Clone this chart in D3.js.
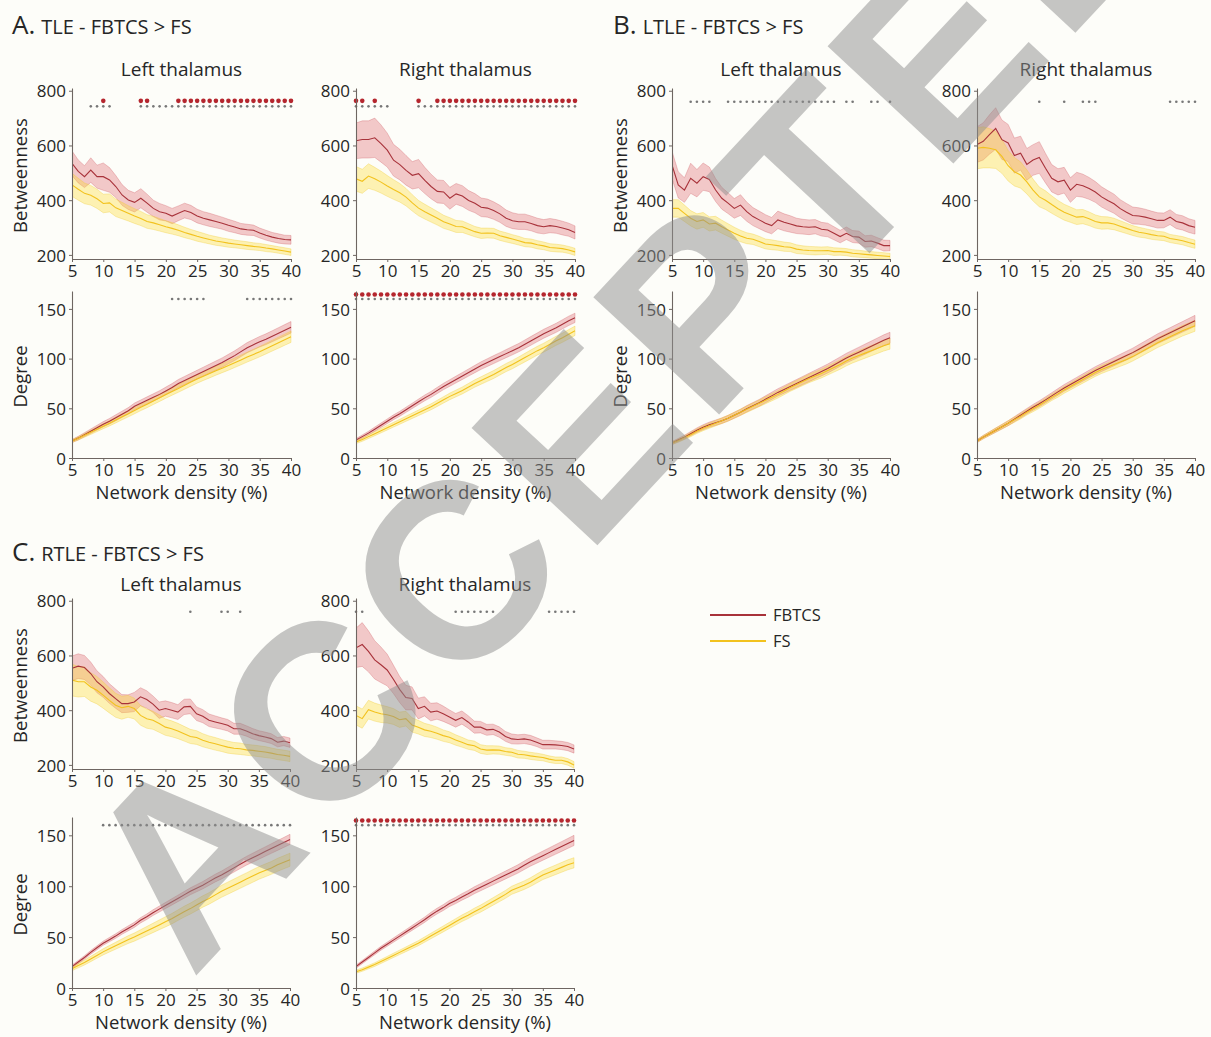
<!DOCTYPE html>
<html>
<head>
<meta charset="utf-8">
<script src="https://cdn.jsdelivr.net/npm/d3@7"></script>
<style>
  body { margin: 0; background: #fdfdf9; }
  svg text { font-family: "Open Sans", sans-serif; fill: #262626; }
</style>
</head>
<body>
<svg id="fig" width="1211" height="1037"></svg>
<script>
// ---------------- data ----------------
const density = [5,6,7,8,9,10,11,12,13,14,15,16,17,18,19,20,21,22,23,24,25,26,27,28,29,30,31,32,33,34,35,36,37,38,39,40];
const densityTicks = [5,10,15,20,25,30,35,40];
const betweennessTicks = [200,400,600,800];
const degreeTicks = [0,50,100,150];
const groups = ["FBTCS", "FS"];

// A. TLE — betweenness
const tleLeftBtwFbtcs = [535,505,486,510,486,486,474,450,419,401,392,407,389,370,358,352,342,352,362,355,342,334,328,322,316,308,302,295,292,290,280,272,265,260,256,255];
const tleLeftBtwFbtcsSe = [45,42,40,45,42,50,45,40,38,35,35,35,33,30,30,28,28,27,27,26,25,24,24,23,22,22,21,20,20,19,18,18,17,17,16,16];
const tleLeftBtwFs = [456,440,425,418,405,388,390,372,362,352,342,333,322,317,310,303,297,290,282,275,268,262,256,251,247,243,240,237,234,231,229,225,222,218,214,210];
const tleLeftBtwFsSe = [42,40,38,36,35,34,33,32,30,28,27,26,25,24,23,22,21,20,19,18,18,17,16,16,15,15,14,14,14,13,13,13,12,12,12,12];
const tleRightBtwFbtcs = [617,622,622,628,607,583,546,530,509,491,497,472,450,432,430,407,423,415,399,389,374,371,362,350,334,325,321,321,315,307,303,307,304,298,292,282];
const tleRightBtwFbtcsSe = [65,68,68,72,68,62,58,56,54,50,52,48,45,42,42,40,38,38,36,35,34,33,32,31,30,29,28,28,27,27,26,26,25,25,24,24];
const tleRightBtwFs = [478,469,488,478,466,452,439,427,411,390,371,358,346,334,321,313,304,303,294,285,279,280,279,270,264,258,252,245,243,237,233,227,225,223,218,211];
const tleRightBtwFsSe = [45,44,45,42,40,38,36,34,32,30,28,27,26,25,24,23,22,21,20,19,19,18,18,17,17,16,16,15,15,15,14,14,14,13,13,13];

// A. TLE — degree
const tleLeftDegFbtcs = [17,20,23.5,27,30.5,34,37,40.5,44,47.5,52,55,58,61,64,67.5,71,75,78,81,84,87,90,93,96,99.5,103,107,111,114,117,119.5,122.5,125.5,128.5,131.5];
const tleLeftDegFbtcsSe = [1.5,1.8,2,2.2,2.4,2.6,2.8,3,3.1,3.2,3.3,3.4,3.5,3.6,3.7,3.8,3.9,4,4.1,4.2,4.3,4.4,4.5,4.6,4.7,4.8,4.9,5,5.1,5.2,5.3,5.4,5.5,5.6,5.7,5.8];
const tleLeftDegFs = [17,19.8,22.8,25.8,28.9,32,35,38.2,41.4,44.5,47.7,51,54,57.3,60.5,63.8,67,70,73.2,76.4,79.5,82.3,85,87.8,90.4,93,95.8,98.6,101.5,104.2,107,110,113,116,119,122];
const tleLeftDegFsSe = [1.5,1.7,1.9,2.1,2.3,2.5,2.7,2.9,3,3.1,3.2,3.3,3.4,3.5,3.6,3.7,3.8,3.9,4,4.1,4.2,4.3,4.4,4.5,4.6,4.7,4.8,4.9,5,5.1,5.2,5.3,5.4,5.5,5.6,5.7];
const tleRightDegFbtcs = [18,21.5,25,29,33,37,41,44.5,48.5,52.5,56.5,60.5,64,68,72,75.5,79,82.5,86,89.5,93,96,99,102,105,108,111,114.5,118,121.5,125,128,131,134.5,138,141];
const tleRightDegFbtcsSe = [1.5,1.7,1.9,2.1,2.2,2.3,2.4,2.5,2.6,2.7,2.8,2.9,3,3.1,3.2,3.3,3.4,3.5,3.6,3.7,3.8,3.9,4,4,4.1,4.2,4.2,4.3,4.4,4.4,4.5,4.5,4.6,4.6,4.7,4.7];
const tleRightDegFs = [16,18.5,21.5,24.5,27.5,30.5,33.5,36.5,39.5,42.5,45.5,48.5,51.5,55,58.5,62,65,68,71.5,75,78,81,84,87.5,91,94,97.5,101,104.5,108,111,114.5,118,121,124.5,128];
const tleRightDegFsSe = [1.5,1.7,1.9,2.1,2.2,2.3,2.4,2.5,2.6,2.7,2.8,2.9,3,3.1,3.2,3.3,3.4,3.5,3.6,3.7,3.8,3.9,4,4,4.1,4.2,4.2,4.3,4.4,4.4,4.5,4.5,4.6,4.6,4.7,4.7];

// B. LTLE — betweenness
const ltleLeftBtwFbtcs = [529,456,437,480,462,486,476,437,407,389,370,382,358,340,328,316,307,328,319,313,306,303,301,303,294,291,279,267,279,267,265,249,251,243,234,234];
const ltleLeftBtwFbtcsSe = [50,48,45,55,50,50,45,42,40,38,36,38,35,33,32,31,30,32,31,30,28,27,27,26,25,25,24,23,23,22,22,21,21,20,20,19];
const ltleLeftBtwFs = [370,370,352,334,322,328,313,316,303,291,279,269,261,257,249,240,237,234,230,228,221,218,216,215,215,216,212,212,210,206,204,202,200,198,196,194];
const ltleLeftBtwFsSe = [32,32,30,28,28,27,26,25,24,23,22,21,20,19,19,18,18,17,17,16,16,15,15,15,14,14,14,13,13,13,13,12,12,12,12,12];
const ltleRightBtwFbtcs = [603,615,640,662,621,609,563,572,531,547,556,517,480,467,473,437,458,453,443,430,412,399,387,369,356,344,342,338,332,326,326,338,322,317,307,301];
const ltleRightBtwFbtcsSe = [65,68,72,76,72,68,64,62,58,56,58,54,50,48,47,45,44,42,40,38,37,36,35,33,32,31,30,29,28,28,27,27,26,26,25,25];
const ltleRightBtwFs = [590,593,590,584,560,526,504,492,467,437,412,400,384,369,356,347,338,340,332,322,317,317,313,305,297,289,283,279,274,270,268,260,256,252,245,239];
const ltleRightBtwFsSe = [75,75,72,68,62,56,52,48,44,40,36,34,32,30,29,28,27,26,25,24,23,22,21,20,19,18,18,17,17,16,16,15,15,15,15,15];

// B. LTLE — degree
const ltleLeftDegFbtcs = [15,18,21,24.5,28,31,33.5,35.5,37.5,40,43,46,49.5,52.5,55.5,59,62.5,66,69,72,75,78,81,84,87,90,93.5,97,100.5,103.5,106.5,109.5,112.5,115.5,118.5,121];
const ltleLeftDegFbtcsSe = [1.5,1.7,1.9,2.1,2.3,2.5,2.6,2.7,2.8,2.9,3,3.1,3.2,3.3,3.4,3.5,3.6,3.7,3.8,3.9,4,4.1,4.2,4.3,4.4,4.5,4.6,4.7,4.8,4.9,5,5.1,5.2,5.3,5.4,5.5];
const ltleLeftDegFs = [15,17.5,20.5,23.5,27,30,32.5,35,37.5,40,43,46,49,52,55,58,61,64,67.5,71,74,77,80,82.5,85,88,91,94,97.5,100.5,103,105.5,108,110.5,113,115];
const ltleLeftDegFsSe = [1.5,1.7,1.9,2.1,2.3,2.5,2.6,2.7,2.8,2.9,3,3.1,3.2,3.3,3.4,3.5,3.6,3.7,3.8,3.9,4,4.1,4.2,4.3,4.4,4.5,4.6,4.7,4.8,4.9,5,5.1,5.2,5.3,5.4,5.5];
const ltleRightDegFbtcs = [17,21,24.5,28,31.5,35,39,43,47,51,54.5,58.5,62.5,66.5,70.5,74,77.5,81,84.5,88,91,94,97,100,103,106,109.5,113,116.5,120,123,126,129,132,135,138];
const ltleRightDegFbtcsSe = [1.5,1.7,1.9,2.1,2.3,2.5,2.6,2.7,2.8,2.9,3,3.1,3.2,3.3,3.4,3.5,3.6,3.7,3.8,3.9,4,4.1,4.2,4.3,4.4,4.5,4.6,4.7,4.8,4.9,5,5.1,5.2,5.3,5.4,5.5];
const ltleRightDegFs = [17,21,24.5,28,31.5,35,38.5,42,46,49.5,53,57,61,64.5,68.5,72,75.5,79,82.5,86,89,91.5,94,96.5,99,102,105.5,109,112.5,116,119,122,125,128,130.5,133];
const ltleRightDegFsSe = [1.5,1.7,1.9,2.1,2.3,2.5,2.6,2.7,2.8,2.9,3,3.1,3.2,3.3,3.4,3.5,3.6,3.7,3.8,3.9,4,4.1,4.2,4.3,4.4,4.5,4.6,4.7,4.8,4.9,5,5.1,5.2,5.3,5.4,5.5];

// C. RTLE — betweenness
const rtleLeftBtwFbtcs = [553,561,556,534,504,485,461,442,424,424,430,449,439,422,400,406,400,393,412,414,387,378,363,357,351,345,332,332,324,314,307,302,296,283,287,281];
const rtleLeftBtwFbtcsSe = [45,45,44,42,40,38,36,35,33,32,35,33,32,30,30,28,28,27,28,27,25,24,23,22,21,21,20,20,19,19,18,18,18,17,17,17];
const rtleLeftBtwFs = [510,504,504,485,473,455,436,418,409,414,406,381,369,363,351,338,332,324,314,304,300,290,283,277,271,265,261,259,255,253,250,247,243,238,235,231];
const rtleLeftBtwFsSe = [58,56,54,52,50,48,46,44,42,40,38,36,35,33,32,30,29,28,27,26,25,24,23,23,22,22,21,21,20,20,20,20,19,19,19,19];
const rtleRightBtwFbtcs = [628,640,615,584,566,547,513,476,446,443,406,414,393,397,387,375,363,373,357,338,338,328,330,320,304,295,293,295,291,283,274,274,273,271,267,258];
const rtleRightBtwFbtcsSe = [72,80,75,70,65,58,52,48,45,42,38,35,32,30,28,26,25,24,23,22,21,20,19,19,18,18,17,17,17,16,16,16,15,15,15,15];
const rtleRightBtwFs = [381,369,402,393,387,383,377,365,369,346,338,328,323,316,307,301,291,283,274,270,258,254,255,254,249,246,239,237,233,230,227,221,217,217,211,200];
const rtleRightBtwFsSe = [35,35,34,33,32,30,29,28,27,26,25,24,23,22,21,20,19,18,17,17,16,16,15,15,14,14,14,13,13,13,12,12,12,12,12,12];

// C. RTLE — degree
const rtleLeftDegFbtcs = [21,25.5,30,35,39.5,44,47.5,51,55,58.5,62,66.5,70,74,77.5,81,84.5,88,91.5,95,98,101,104.5,108,111,114.5,118,121.5,125,128,131,134,137,140,143,146];
const rtleLeftDegFbtcsSe = [1.5,1.6,1.7,1.8,1.9,2,2.1,2.2,2.3,2.4,2.5,2.6,2.7,2.8,2.9,3,3.1,3.2,3.3,3.4,3.5,3.6,3.7,3.8,3.9,4,4.1,4.2,4.3,4.4,4.5,4.6,4.7,4.8,4.9,5];
const rtleLeftDegFs = [19,22,25,28.5,32,35.5,38.5,41.5,44.5,47.5,50,53,56,59,62,65,68,71.5,75,78,81.5,85,88,91.5,95,98,101,104,107,110,113,115.5,118,121,123.5,126];
const rtleLeftDegFsSe = [2,2.2,2.4,2.6,2.8,3,3.2,3.4,3.6,3.8,4,4.2,4.4,4.6,4.8,5,5.1,5.2,5.3,5.4,5.5,5.6,5.7,5.8,5.9,6,6,6.1,6.1,6.2,6.2,6.3,6.3,6.4,6.4,6.5];
const rtleRightDegFbtcs = [21,25.5,30,34.5,39,43,47,51,55,59,63,67,71.5,75.5,79,83,86,89.5,92.5,96,99,102,105,108,111,114,117,120.5,124,127,130,133,136,139,142,145];
const rtleRightDegFbtcsSe = [1.5,1.6,1.7,1.8,1.9,2,2.1,2.2,2.3,2.4,2.5,2.6,2.7,2.8,2.9,3,3.1,3.2,3.3,3.4,3.5,3.6,3.7,3.8,3.9,4,4.1,4.2,4.3,4.4,4.5,4.6,4.7,4.8,4.9,5];
const rtleRightDegFs = [16,18,20.5,23,26,29,32,35,38,41,44,47.5,51,54.5,58,61.5,65,68.5,71.5,75,78,81.5,85,88.5,92,96,98.5,101,104,107.5,111,113.5,116,118.5,121,123];
const rtleRightDegFsSe = [1.5,1.6,1.7,1.8,1.9,2,2.1,2.2,2.3,2.4,2.5,2.6,2.7,2.8,2.9,3,3.1,3.2,3.3,3.4,3.5,3.6,3.7,3.8,3.9,4,4.1,4.2,4.3,4.4,4.5,4.6,4.7,4.8,4.9,5];

// Significant densities (red: corrected, grey: uncorrected)
const tleLeftBtwCorr = [10,16,17,22,23,24,25,26,27,28,29,30,31,32,33,34,35,36,37,38,39,40];
const tleLeftBtwUnc = [8,9,10,11,16,17,18,19,20,21,22,23,24,25,26,27,28,29,30,31,32,33,34,35,36,37,38,39,40];
const tleRightBtwCorr = [5,6,8,15,18,19,20,21,22,23,24,25,26,27,28,29,30,31,32,33,34,35,36,37,38,39,40];
const tleRightBtwUnc = [5,6,7,8,9,10,15,16,17,18,19,20,21,22,23,24,25,26,27,28,29,30,31,32,33,34,35,36,37,38,39,40];
const tleLeftDegUnc = [21,22,23,24,25,26,33,34,35,36,37,38,39,40];
const tleRightDegCorr = [5,6,7,8,9,10,11,12,13,14,15,16,17,18,19,20,21,22,23,24,25,26,27,28,29,30,31,32,33,34,35,36,37,38,39,40];
const tleRightDegUnc = [5,6,7,8,9,10,11,12,13,14,15,16,17,18,19,20,21,22,23,24,25,26,27,28,29,30,31,32,33,34,35,36,37,38,39,40];
const ltleLeftBtwUnc = [8,9,10,11,14,15,16,17,18,19,20,21,22,23,24,25,26,27,28,29,30,31,33,34,37,38,40];
const ltleRightBtwUnc = [15,19,22,23,24,36,37,38,39,40];
const rtleLeftBtwUnc = [24,29,30,32];
const rtleRightBtwUnc = [5,6,21,22,23,24,25,26,27,36,37,38,39,40];
const rtleLeftDegUnc = [10,11,12,13,14,15,16,17,18,19,20,21,22,23,24,25,26,27,28,29,30,31,32,33,34,35,36,37,38,39,40];
const rtleRightDegCorr = [5,6,7,8,9,10,11,12,13,14,15,16,17,18,19,20,21,22,23,24,25,26,27,28,29,30,31,32,33,34,35,36,37,38,39,40];
const rtleRightDegUnc = [5,6,7,8,9,10,11,12,13,14,15,16,17,18,19,20,21,22,23,24,25,26,27,28,29,30,31,32,33,34,35,36,37,38,39,40];

// ---------------- drawing ----------------
const svg = d3.select("#fig");
const style = {
  FBTCS: { line: "#a8323a", fill: "rgba(214,66,76,0.28)", edge: "rgba(200,70,80,0.35)" },
  FS:    { line: "#f2c21e", fill: "rgba(252,218,40,0.34)", edge: "rgba(240,200,40,0.4)" }
};
const markerStyle = { corr: { r: 2.3, fill: "#b5262e" }, unc: { r: 1.3, fill: "#777" } };

let clipId = 0;
function drawPlot(p) {
  const g = svg.append("g");
  const x = d3.scaleLinear().domain([5, 40]).range([p.left, p.left + p.width]);
  const y = d3.scaleLinear().domain(p.domain).range([p.bottom, p.top]);
  const id = "clip" + (clipId++);
  g.append("clipPath").attr("id", id).append("rect")
    .attr("x", p.left).attr("y", p.top).attr("width", p.width + 1).attr("height", p.bottom - p.top);
  const body = g.append("g").attr("clip-path", `url(#${id})`);

  p.series.forEach(s => {
    const st = style[s.group];
    const area = d3.area()
      .x((d, i) => x(density[i]))
      .y0((d, i) => y(d - s.se[i]))
      .y1((d, i) => y(d + s.se[i]));
    body.append("path").datum(s.mean).attr("d", area)
      .attr("fill", st.fill).attr("stroke", st.edge).attr("stroke-width", 0.8);
  });
  p.series.forEach(s => {
    const line = d3.line().x((d, i) => x(density[i])).y(d => y(d));
    body.append("path").datum(s.mean).attr("d", line)
      .attr("fill", "none").attr("stroke", style[s.group].line).attr("stroke-width", 1.1);
  });

  (p.markers || []).forEach(m => {
    g.append("g").selectAll("circle").data(m.at).join("circle")
      .attr("cx", d => x(d)).attr("cy", y(m.level))
      .attr("r", markerStyle[m.kind].r).attr("fill", markerStyle[m.kind].fill);
  });

  const yAxis = d3.axisLeft(y).tickValues(p.ticks).tickSize(3).tickSizeOuter(0).tickPadding(3);
  const xAxis = d3.axisBottom(x).tickValues(densityTicks).tickSize(3).tickSizeOuter(0).tickPadding(2);
  const ya = g.append("g").attr("transform", `translate(${p.left},0)`).call(yAxis);
  const xa = g.append("g").attr("transform", `translate(0,${p.bottom})`).call(xAxis);
  [ya, xa].forEach(a => {
    a.select(".domain").attr("stroke", "#6e6662").attr("stroke-width", 1.1);
    a.selectAll(".tick line").attr("stroke", "#6e6662");
    a.selectAll(".tick text").style("font-size", "17px").attr("fill", "#262626");
  });
  ya.selectAll(".tick text").attr("dy", "0.36em");
  xa.selectAll(".tick text").attr("dy", "0.78em");

  if (p.title) {
    g.append("text").attr("x", p.left + p.width / 2).attr("y", p.titleY)
      .attr("text-anchor", "middle").style("font-size", "19px").text(p.title);
  }
  if (p.ylabel) {
    g.append("text")
      .attr("transform", `translate(${p.left - 45},${(p.top + p.bottom) / 2 + 2}) rotate(-90)`)
      .attr("text-anchor", "middle").style("font-size", "18.5px").text(p.ylabel);
  }
  if (p.xlabel) {
    g.append("text").attr("x", p.left + p.width / 2).attr("y", p.bottom + 41)
      .attr("text-anchor", "middle").style("font-size", "18.5px").text(p.xlabel);
  }
}

const btwDomain = [185, 810];
const degDomain = [0, 168];
const XLAB = "Network density (%)";

function panel(cfg) {
  const [lx, rx] = cfg.cols;
  const w = cfg.width;
  const d = cfg.data;
  // betweenness row
  drawPlot({ left: lx, width: w, top: cfg.btwTop, bottom: cfg.btwBottom, domain: btwDomain,
    ticks: betweennessTicks, title: "Left thalamus", titleY: cfg.titleY,
    ylabel: "Betweenness",
    series: [{ group: "FBTCS", mean: d.lbF, se: d.lbFse }, { group: "FS", mean: d.lbS, se: d.lbSse }],
    markers: d.lbMarks });
  drawPlot({ left: rx, width: w, top: cfg.btwTop, bottom: cfg.btwBottom, domain: btwDomain,
    ticks: betweennessTicks, title: "Right thalamus", titleY: cfg.titleY,
    series: [{ group: "FBTCS", mean: d.rbF, se: d.rbFse }, { group: "FS", mean: d.rbS, se: d.rbSse }],
    markers: d.rbMarks });
  // degree row
  drawPlot({ left: lx, width: w, top: cfg.degTop, bottom: cfg.degBottom, domain: degDomain,
    ticks: degreeTicks, ylabel: "Degree", xlabel: XLAB,
    series: [{ group: "FBTCS", mean: d.ldF, se: d.ldFse }, { group: "FS", mean: d.ldS, se: d.ldSse }],
    markers: d.ldMarks });
  drawPlot({ left: rx, width: w, top: cfg.degTop, bottom: cfg.degBottom, domain: degDomain,
    ticks: degreeTicks, xlabel: XLAB,
    series: [{ group: "FBTCS", mean: d.rdF, se: d.rdFse }, { group: "FS", mean: d.rdS, se: d.rdSse }],
    markers: d.rdMarks });
  // panel heading
  const h = svg.append("text").attr("x", cfg.headX).attr("y", cfg.headY);
  h.append("tspan").style("font-size", "26px").text(cfg.letter);
  h.append("tspan").attr("dx", 6).style("font-size", "20px").text(cfg.heading);
}

panel({
  letter: "A.", heading: "TLE - FBTCS > FS", headX: 12, headY: 34,
  cols: [72, 356], width: 219, titleY: 76,
  btwTop: 88, btwBottom: 259, degTop: 291, degBottom: 458,
  data: {
    lbF: tleLeftBtwFbtcs, lbFse: tleLeftBtwFbtcsSe, lbS: tleLeftBtwFs, lbSse: tleLeftBtwFsSe,
    rbF: tleRightBtwFbtcs, rbFse: tleRightBtwFbtcsSe, rbS: tleRightBtwFs, rbSse: tleRightBtwFsSe,
    ldF: tleLeftDegFbtcs, ldFse: tleLeftDegFbtcsSe, ldS: tleLeftDegFs, ldSse: tleLeftDegFsSe,
    rdF: tleRightDegFbtcs, rdFse: tleRightDegFbtcsSe, rdS: tleRightDegFs, rdSse: tleRightDegFsSe,
    lbMarks: [{ kind: "corr", level: 763, at: tleLeftBtwCorr }, { kind: "unc", level: 743, at: tleLeftBtwUnc }],
    rbMarks: [{ kind: "corr", level: 763, at: tleRightBtwCorr }, { kind: "unc", level: 743, at: tleRightBtwUnc }],
    ldMarks: [{ kind: "unc", level: 160, at: tleLeftDegUnc }],
    rdMarks: [{ kind: "corr", level: 164.5, at: tleRightDegCorr }, { kind: "unc", level: 160, at: tleRightDegUnc }]
  }
});

panel({
  letter: "B.", heading: "LTLE - FBTCS > FS", headX: 613, headY: 34,
  cols: [672, 977], width: 218, titleY: 76,
  btwTop: 88, btwBottom: 259, degTop: 291, degBottom: 458,
  data: {
    lbF: ltleLeftBtwFbtcs, lbFse: ltleLeftBtwFbtcsSe, lbS: ltleLeftBtwFs, lbSse: ltleLeftBtwFsSe,
    rbF: ltleRightBtwFbtcs, rbFse: ltleRightBtwFbtcsSe, rbS: ltleRightBtwFs, rbSse: ltleRightBtwFsSe,
    ldF: ltleLeftDegFbtcs, ldFse: ltleLeftDegFbtcsSe, ldS: ltleLeftDegFs, ldSse: ltleLeftDegFsSe,
    rdF: ltleRightDegFbtcs, rdFse: ltleRightDegFbtcsSe, rdS: ltleRightDegFs, rdSse: ltleRightDegFsSe,
    lbMarks: [{ kind: "unc", level: 760, at: ltleLeftBtwUnc }],
    rbMarks: [{ kind: "unc", level: 760, at: ltleRightBtwUnc }],
    ldMarks: [], rdMarks: []
  }
});

panel({
  letter: "C.", heading: "RTLE - FBTCS > FS", headX: 12, headY: 561,
  cols: [72, 356], width: 218, titleY: 591,
  btwTop: 598, btwBottom: 769, degTop: 817, degBottom: 988,
  data: {
    lbF: rtleLeftBtwFbtcs, lbFse: rtleLeftBtwFbtcsSe, lbS: rtleLeftBtwFs, lbSse: rtleLeftBtwFsSe,
    rbF: rtleRightBtwFbtcs, rbFse: rtleRightBtwFbtcsSe, rbS: rtleRightBtwFs, rbSse: rtleRightBtwFsSe,
    ldF: rtleLeftDegFbtcs, ldFse: rtleLeftDegFbtcsSe, ldS: rtleLeftDegFs, ldSse: rtleLeftDegFsSe,
    rdF: rtleRightDegFbtcs, rdFse: rtleRightDegFbtcsSe, rdS: rtleRightDegFs, rdSse: rtleRightDegFsSe,
    lbMarks: [{ kind: "unc", level: 760, at: rtleLeftBtwUnc }],
    rbMarks: [{ kind: "unc", level: 760, at: rtleRightBtwUnc }],
    ldMarks: [{ kind: "unc", level: 160, at: rtleLeftDegUnc }],
    rdMarks: [{ kind: "corr", level: 164.5, at: rtleRightDegCorr }, { kind: "unc", level: 160, at: rtleRightDegUnc }]
  }
});

// legend
const legend = svg.append("g").attr("transform", "translate(710,615)");
groups.forEach((grp, i) => {
  const row = legend.append("g").attr("transform", `translate(0,${i * 26})`);
  row.append("line").attr("x1", 0).attr("x2", 56).attr("y1", 0).attr("y2", 0)
    .attr("stroke", style[grp].line).attr("stroke-width", 2);
  row.append("text").attr("x", 63).attr("y", 0).attr("dy", "0.36em")
    .style("font-size", "16.5px").text(grp);
});

// manuscript watermark
svg.append("text")
  .attr("transform", "translate(192,980) rotate(-47)")
  .style("font-family", "'Liberation Sans', Arial, sans-serif")
  .style("font-weight", "bold")
  .style("font-size", "250px")
  .style("letter-spacing", "12px")
  .style("fill", "#8f8f8f")
  .style("opacity", 0.5)
  .text("ACCEPTED");
</script>
</body>
</html>
